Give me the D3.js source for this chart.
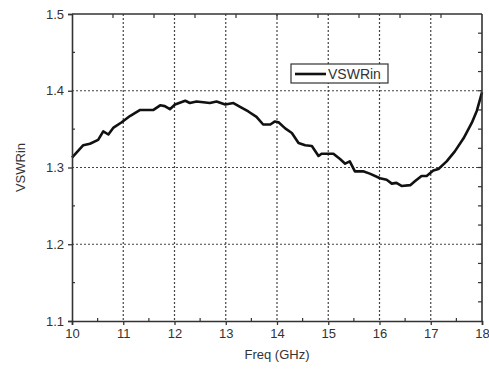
<!DOCTYPE html>
<html>
<head>
<meta charset="utf-8">
<script src="https://cdn.jsdelivr.net/npm/d3@7"></script>
<style>
  body { margin: 0; background: #fff; }
  text { font-family: "Liberation Sans", Arial, sans-serif; fill: #333; }
</style>
</head>
<body>
<svg id="chart" width="489" height="370"></svg>
<script>
// frequency points (GHz)
var freq = [10.0, 10.22, 10.35, 10.51, 10.61, 10.71, 10.81, 10.97, 11.13, 11.33, 11.59, 11.72, 11.81, 11.91,
    12.01, 12.21, 12.30, 12.43, 12.69, 12.82, 12.99, 13.15, 13.28, 13.44, 13.6, 13.73, 13.87, 13.96, 14.03,
    14.16, 14.29, 14.42, 14.55, 14.68, 14.81, 14.87, 15.10, 15.23, 15.33, 15.42, 15.52, 15.68, 15.81, 16.01,
    16.14, 16.24, 16.33, 16.43, 16.60, 16.69, 16.82, 16.92, 17.05, 17.15, 17.31, 17.47, 17.64, 17.80, 17.90, 18.0];
var vswr = [1.313, 1.329, 1.331, 1.336, 1.347, 1.343, 1.352, 1.359, 1.367, 1.375, 1.375, 1.381, 1.380, 1.376,
    1.382, 1.387, 1.384, 1.386, 1.384, 1.386, 1.382, 1.384, 1.379, 1.373, 1.366, 1.356, 1.356, 1.360, 1.359,
    1.351, 1.345, 1.332, 1.329, 1.328, 1.315, 1.318, 1.318, 1.311, 1.305, 1.308, 1.295, 1.295, 1.292, 1.286,
    1.284, 1.279, 1.280, 1.276, 1.277, 1.282, 1.289, 1.289, 1.296, 1.298, 1.308, 1.321, 1.338, 1.358, 1.374, 1.398];

var xTicks = [10, 11, 12, 13, 14, 15, 16, 17, 18];
var yTicks = [1.1, 1.2, 1.3, 1.4, 1.5];
var seriesName = "VSWRin";

var svg = d3.select("#chart"),
    margin = {top: 14, right: 7, bottom: 49, left: 72},
    width = +svg.attr("width") - margin.left - margin.right,
    height = +svg.attr("height") - margin.top - margin.bottom;

var x = d3.scaleLinear().domain([10, 18]).range([0, width]),
    y = d3.scaleLinear().domain([1.1, 1.5]).range([height, 0]);

var g = svg.append("g")
    .attr("transform", "translate(" + margin.left + "," + margin.top + ")");

// dotted grid
g.selectAll(".gx")
    .data(xTicks.slice(1, -1))
    .enter().append("line")
    .attr("x1", function (d) { return x(d); })
    .attr("x2", function (d) { return x(d); })
    .attr("y1", 0).attr("y2", height)
    .attr("stroke", "#444").attr("stroke-width", 1.2).attr("stroke-dasharray", "2,2");

g.selectAll(".gy")
    .data(yTicks.slice(1, -1))
    .enter().append("line")
    .attr("y1", function (d) { return y(d); })
    .attr("y2", function (d) { return y(d); })
    .attr("x1", 0).attr("x2", width)
    .attr("stroke", "#444").attr("stroke-width", 1.2).attr("stroke-dasharray", "2,2");

// curve
var line = d3.line()
    .x(function (d, i) { return x(freq[i]); })
    .y(function (d) { return y(d); });

g.append("path")
    .datum(vswr)
    .attr("d", line)
    .attr("fill", "none")
    .attr("stroke", "#111")
    .attr("stroke-width", 2.6)
    .attr("stroke-linejoin", "round");

// axes
var axisColor = "#333";

var bottom = g.append("g")
    .attr("transform", "translate(0," + height + ")")
    .call(d3.axisBottom(x).tickValues(xTicks).tickSize(4).tickPadding(4).tickFormat(d3.format("d")));
bottom.selectAll("text").style("font-size", "13px").attr("fill", "#333");

var left = g.append("g")
    .call(d3.axisLeft(y).tickValues(yTicks).tickSize(4).tickPadding(4).tickFormat(d3.format(".1f")));
left.selectAll("text").style("font-size", "13px").attr("fill", "#333");

[bottom, left].forEach(function (a) {
    a.select(".domain").attr("stroke", axisColor).attr("stroke-width", 1.6);
    a.selectAll(".tick line").attr("stroke", axisColor).attr("stroke-width", 1.3);
});

// minor ticks (inward)
g.selectAll(".mx")
    .data(d3.range(10.5, 18, 1))
    .enter().append("line")
    .attr("x1", function (d) { return x(d); })
    .attr("x2", function (d) { return x(d); })
    .attr("y1", height).attr("y2", height - 3)
    .attr("stroke", axisColor).attr("stroke-width", 1.2);

g.selectAll(".my")
    .data(d3.range(1.15, 1.5, 0.1))
    .enter().append("line")
    .attr("y1", function (d) { return y(d); })
    .attr("y2", function (d) { return y(d); })
    .attr("x1", 0).attr("x2", 3)
    .attr("stroke", axisColor).attr("stroke-width", 1.2);

// top and right frame
g.append("line").attr("x1", 0).attr("x2", width).attr("y1", 0).attr("y2", 0)
    .attr("stroke", axisColor).attr("stroke-width", 1.6);
g.append("line").attr("x1", width).attr("x2", width).attr("y1", 0).attr("y2", height)
    .attr("stroke", axisColor).attr("stroke-width", 1.6);

var xTop = d3.scaleLinear().domain([0, 10]).range([0, width]);
g.selectAll(".tt")
    .data(d3.range(1, 10))
    .enter().append("line")
    .attr("x1", function (d) { return xTop(d); })
    .attr("x2", function (d) { return xTop(d); })
    .attr("y1", 0).attr("y2", 4)
    .attr("stroke", axisColor).attr("stroke-width", 1.2);

g.selectAll(".rt")
    .data(d3.range(1.125, 1.5, 0.025))
    .enter().append("line")
    .attr("y1", function (d) { return y(d); })
    .attr("y2", function (d) { return y(d); })
    .attr("x1", width).attr("x2", width - 4)
    .attr("stroke", axisColor).attr("stroke-width", 1.2);

// axis titles
svg.append("text")
    .attr("x", margin.left + width / 2)
    .attr("y", 359)
    .attr("text-anchor", "middle")
    .style("font-size", "13px")
    .text("Freq (GHz)");

svg.append("text")
    .attr("transform", "translate(25," + (margin.top + height / 2) + ") rotate(-90)")
    .attr("text-anchor", "middle")
    .style("font-size", "13px")
    .text("VSWRin");

// legend
var lg = g.append("g").attr("transform", "translate(219,50)");
lg.append("rect")
    .attr("width", 97).attr("height", 19)
    .attr("fill", "#fff").attr("stroke", "#333").attr("stroke-width", 1.2);
lg.append("line")
    .attr("x1", 4).attr("x2", 35).attr("y1", 10).attr("y2", 10)
    .attr("stroke", "#111").attr("stroke-width", 2.6);
lg.append("text")
    .attr("x", 37).attr("y", 15)
    .style("font-size", "14px")
    .text(seriesName);
</script>
</body>
</html>
